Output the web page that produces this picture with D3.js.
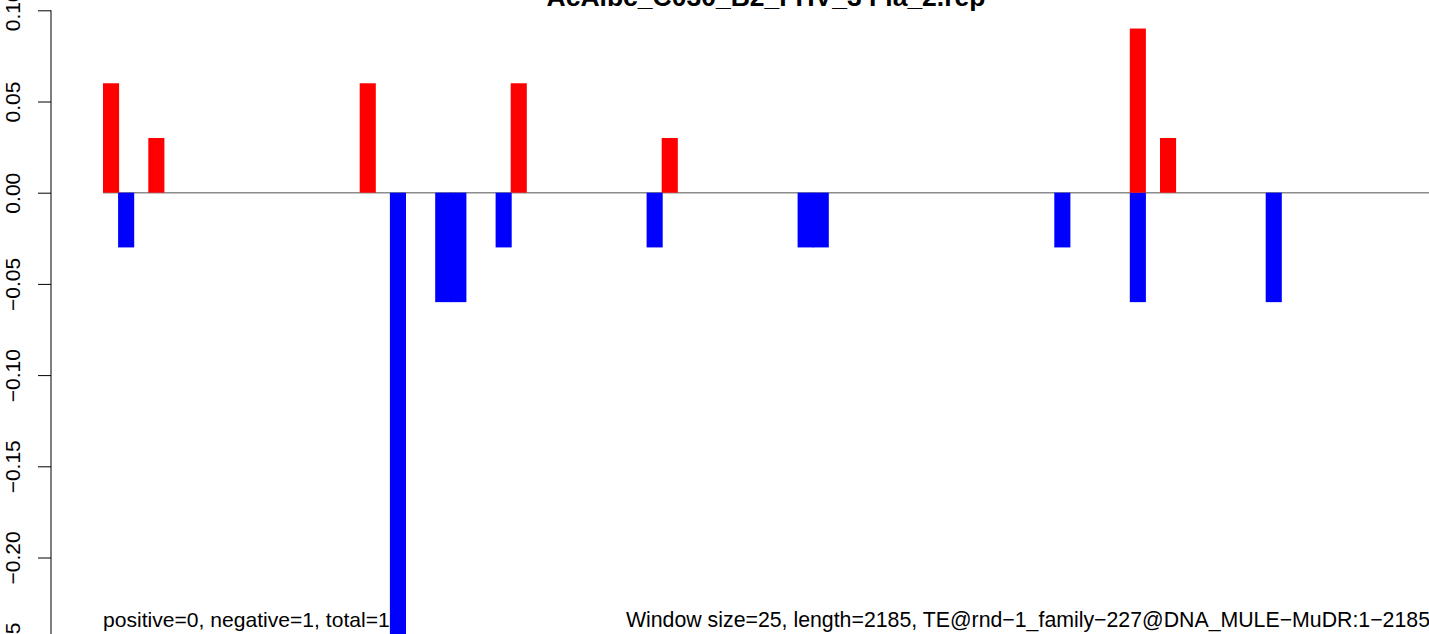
<!DOCTYPE html>
<html>
<head>
<meta charset="utf-8">
<script src="https://cdn.jsdelivr.net/npm/d3@7"></script>
<style>
  html, body { margin: 0; padding: 0; background: #fff; overflow: hidden; }
  svg { display: block; }
  text { font-family: "Liberation Sans", Arial, Helvetica, sans-serif; }
</style>
</head>
<body>
<svg id="chart" width="1429" height="634"></svg>
<script>
// ---- data ----
const title = "AcAlbc_C030_B2_FHV_3 Fla_2.rep";
const nWindows = 88; // 2185 / 25 windows
const posWindows = [0, 3, 17, 27, 37, 68, 70];
const posValues  = [0.06, 0.03, 0.06, 0.06, 0.03, 0.09, 0.03];
const negWindows = [1, 19, 22, 23, 26, 36, 46, 47, 63, 68, 77];
const negValues  = [-0.03, -0.27, -0.06, -0.06, -0.03, -0.03, -0.03, -0.03, -0.03, -0.06, -0.06];
const yTicks = [0.10, 0.05, 0.00, -0.05, -0.10, -0.15, -0.20, -0.25];
const leftNote = "positive=0, negative=1, total=1";
const rightNote = "Window size=25, length=2185, TE@rnd\u22121_family\u2212227@DNA_MULE\u2212MuDR:1\u22122185";

// ---- layout ----
const svg = d3.select("#chart");
const x = d3.scaleBand().domain(d3.range(nWindows)).range([103, 103 + nWindows * 15.1]).padding(0);
const y = d3.scaleLinear().domain([0, 0.10]).range([192.7, 10.3]);
const bw = x.bandwidth() + 1;
const fmt = v => d3.format(".2f")(v).replace("-", "\u2212");

// zero line
svg.append("line")
  .attr("x1", x(0)).attr("x2", 1429)
  .attr("y1", y(0)).attr("y2", y(0))
  .attr("stroke", "#8c8c8c").attr("stroke-width", 1.6);

// negative bars
svg.append("g").selectAll("rect").data(negWindows.map((w, i) => ({w, v: negValues[i]})))
  .join("rect")
  .attr("x", d => x(d.w)).attr("width", bw)
  .attr("y", y(0)).attr("height", d => y(d.v) - y(0))
  .attr("fill", "#0000ff");

// positive bars
svg.append("g").selectAll("rect").data(posWindows.map((w, i) => ({w, v: posValues[i]})))
  .join("rect")
  .attr("x", d => x(d.w)).attr("width", bw)
  .attr("y", d => y(d.v)).attr("height", d => y(0) - y(d.v))
  .attr("fill", "#ff0000");

// y axis
const axis = d3.axisLeft(y).tickValues(yTicks).tickSize(13).tickFormat(fmt);
const ag = svg.append("g").attr("transform", "translate(51,0)").call(axis);
ag.select(".domain").attr("d", `M-0,${y(0.10)}V${y(-0.25)}`).attr("stroke", "#000").attr("stroke-width", 1);
ag.selectAll(".tick line").attr("stroke", "#000").attr("stroke-width", 1);
ag.selectAll(".tick text")
  .attr("x", null).attr("dy", null)
  .attr("transform", "translate(-31,0) rotate(-90)")
  .attr("text-anchor", "middle")
  .attr("font-size", 21)
  .attr("font-family", "Liberation Sans, Arial, sans-serif")
  .attr("fill", "#000");

// title
svg.append("text")
  .attr("x", 766).attr("y", 6)
  .attr("text-anchor", "middle")
  .attr("font-size", 26.5).attr("font-weight", "bold")
  .attr("fill", "#000")
  .text(title);

// bottom notes
svg.append("text")
  .attr("x", 103).attr("y", 627)
  .attr("font-size", 21.1).attr("fill", "#000")
  .text(leftNote);
svg.append("text")
  .attr("x", 1430).attr("y", 627)
  .attr("text-anchor", "end")
  .attr("font-size", 21.3).attr("fill", "#000")
  .text(rightNote);
</script>
</body>
</html>
